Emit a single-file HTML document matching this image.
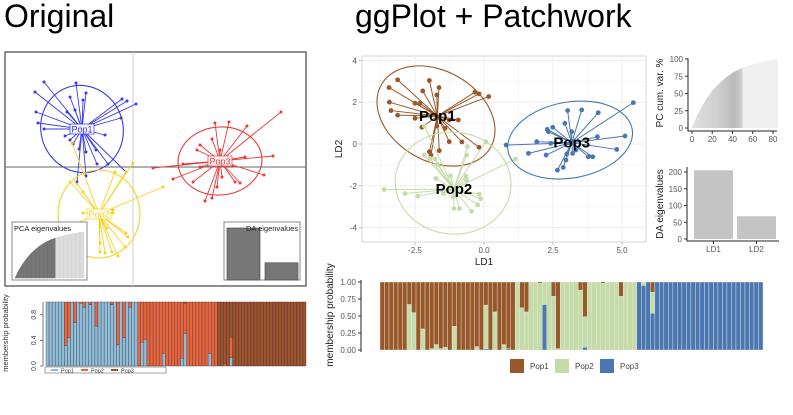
<!DOCTYPE html>
<html><head><meta charset="utf-8"><style>
html,body{margin:0;padding:0;background:#fff;width:793px;height:415px;overflow:hidden}
svg{display:block;font-family:"Liberation Sans",sans-serif}
</style></head><body>
<svg id="s" width="793" height="415" viewBox="0 0 793 415">
<text x="4" y="27" font-size="32" fill="#000">Original</text>
<text x="355" y="27" font-size="32" fill="#000">ggPlot + Patchwork</text>
</svg>
<script>
// ---------- DATA ----------
const r1x=[-3.13,-3.44,-3.43,-3.37,-3.13,-1.98,-2.22,-2.50,-2.32,-1.63,-1.71,-0.33,-0.18,0.17,-1.26,-0.93,-1.71,-2.25,-1.98,-1.92,-1.62,-1.26,-0.80,-0.18,-1.41,-2.50];
const r1y=[3.07,2.70,2.00,1.60,1.38,3.04,2.54,1.95,1.95,2.70,2.35,2.48,2.40,2.27,1.15,1.15,0.86,0.80,-0.37,-0.53,-0.32,0.11,0.10,-0.16,0.75,1.23];
const r2x=[-3.62,-2.86,-2.40,-2.16,-2.17,-1.96,-1.78,-1.69,-1.74,-1.21,-0.63,-0.60,0.07,1.14,-0.65,-0.63,-1.11,-1.09,-0.89,-0.45,-0.23,-0.18,-0.12,-1.47];
const r2y=[-2.18,-2.37,-2.50,0.86,-0.53,-0.69,-0.72,-0.96,-1.65,-1.52,-0.53,-0.13,0.11,-0.72,-1.54,-1.73,-2.53,-3.09,-3.09,-3.22,-2.91,-2.40,-2.61,-2.37];
const r3x=[5.41,3.03,3.54,4.14,2.93,2.49,2.29,2.33,3.18,1.91,1.61,2.25,0.80,2.42,4.11,5.11,4.81,3.33,3.00,2.97,3.21,3.78,3.94,2.87,2.66];
const r3y=[1.98,1.60,1.63,1.50,0.99,0.80,0.70,0.59,0.59,0.11,-0.45,-0.53,-0.05,0.03,0.35,0.38,-0.26,-0.29,-0.48,-0.77,-0.45,-0.61,-0.61,-1.12,-1.25];
const rCent=[[-1.69,1.34],[-1.09,-2.16],[3.18,0.06]];
const rEllC=[[-1.74,1.34],[-1.12,-1.87],[3.12,0.19]];
const xTicks=[-2.5,0,2.5,5];
const xTickLabels=["-2.5","0.0","2.5","5.0"];
const yTicks=[-4,-2,0,2,4];
const popNames=["Pop1","Pop2","Pop3"];
const l1x=[-8.9,-9.8,-5.7,-4.7,-6.3,-9.7,-9.5,-8.9,-6.6,-5.0,-1.1,-0.6,0.3,-1.2,-2.8,-6.8,-6.3,-6.0,-4.7,-3.7,-3.6,-4.7,-5.6,-5.4,-0.7,-2.5,-5.1,-5.8];
const l1y=[8.5,7.5,8.4,7.4,7.0,5.5,4.4,3.8,5.5,6.7,6.8,6.6,6.3,4.9,3.2,3.1,2.7,2.3,1.5,1.7,0.3,-0.9,-1.5,1.8,-0.5,0.3,3.2,5.7];
const l2x=[0.0,-0.7,-1.8,3.0,-6.3,-5.6,-5.0,-6.1,-8.1,-5.0,-2.0,-2.0,-0.7,-0.5,-0.8,-1.5,-2.1,-2.8,-3.3,-3.3,-3.3,-2.6];
const l2y=[0.4,-0.5,-0.5,-2.0,-1.5,-1.7,-2.5,2.4,-6.6,-4.6,-4.3,-4.6,-6.6,-7.0,-8.0,-8.9,-8.5,-8.6,-8.5,-7.6,-6.0,-6.1];
const l3x=[14.8,8.2,9.6,11.4,6.7,7.9,6.4,14.0,11.2,5.0,2.0,4.0,6.0,13.1,10.7,10.2,7.2,7.9,8.4,8.9,10.0,6.7,8.7];
const l3y=[5.5,4.4,4.5,4.1,2.2,2.8,1.7,1.1,1.0,0.3,-0.1,-1.2,-1.5,-0.8,-1.6,-1.5,-3.4,-3.1,-2.0,-1.0,0.1,0.0,1.7];
const lCent=[[-5.1,3.8],[-3.4,-4.7],[8.7,0.6]];
const pcX=[0,5,10,15,20,25,30,35,40,45,50,55,60,65,70,75,80,85];
const pcY=[0,18,32,44,54,62,69,75,80,84,87,90,92,94,96,97,99,100];
const pcRetained=50;
const daNames=["LD1","LD2"];
const daVals=[205,68];
const pcYTicks=[0,25,50,75,100];
const pcXTicks=[0,20,40,60,80];
const daTicks=[0,50,100,150,200];
const m1=[1,1,1,1,1,1,.33,.45,1,.69,1,.98,.92,.98,.96,1,.65,1,1,1,1,.95,1,.34,1,.44,1,.92,.98,1,
 0,.38,.44,0,0,.02,0,0,.21,.98,0,0,0,0,.12,.51,0,0,0,.02,0,0,0,.21,0,0,0,
 0,0,0,.15,0,0,0,0,0,0,0,0,0,0,0,0,0,0,0,0,0,0,0,0,0,0,0,0];
const m2=[0,0,0,0,0,0,.67,.55,0,.31,0,.02,.08,.02,.04,0,.35,0,0,0,0,.05,0,.64,0,.56,0,.08,0,0,
 1,.62,.56,1,1,.98,.33,1,.79,.02,1,1,1,1,.88,.45,1,1,1,.98,1,1,1,.79,1,1,1,
 0,.05,0,.31,0,0,0,0,0,0,0,0,0,0,0,0,0,0,0,0,0,0,0,0,0,0,0,0];
const m3=[0,0,0,0,0,0,0,0,0,0,0,0,0,0,0,0,0,0,0,0,0,0,0,.02,0,0,0,0,.02,0,
 0,0,0,0,0,0,.67,0,0,0,0,0,0,0,0,.04,0,0,0,0,0,0,0,0,0,0,0,
 1,.95,1,.54,1,1,1,1,1,1,1,1,1,1,1,1,1,1,1,1,1,1,1,1,1,1,1,1];
const mTicks=[0,.25,.5,.75,1];
const mTickLabels=["0.00","0.25","0.50","0.75","1.00"];
const lb=[1,1,1,1,1,1,.32,.44,1,.68,1,.98,.92,1,.96,1,.62,1,1,1,1,.96,1,.33,1,.44,1,.92,1,1,
 0,.37,.42,0,0,0,0,0,.2,0,0,0,0,0,.12,.51,0,0,0,0,0,0,0,.2,0,0,
 0,0,0,0,.13,0,0,0,0,0,0,0,0,0,0,0,0,0,0,0,0,0,0,0,0,0,0,0,0];
const lo=[0,0,0,0,0,0,.68,.56,0,.32,0,.02,.08,0,.04,0,.38,0,0,0,0,.04,0,.67,0,.56,0,.08,0,0,
 1,.63,.58,1,1,1,1,1,.8,1,1,1,1,1,.88,.47,1,1,1,1,1,1,1,.8,1,1,
 0,0,.04,0,.32,0,0,0,0,0,0,0,0,0,0,0,0,0,0,0,0,0,0,0,0,0,0,0,0];
const lr=[0,0,0,0,0,0,0,0,0,0,0,0,0,0,0,0,0,0,0,0,0,0,0,0,0,0,0,0,0,0,
 0,0,0,0,0,0,0,0,0,0,0,0,0,0,0,.02,0,0,0,0,0,0,0,0,0,0,
 1,1,.96,1,.55,1,1,1,1,1,1,1,1,1,1,1,1,1,1,1,1,1,1,1,1,1,1,1,1];
const lTicks=[0,.4,.8];
const lTickLabels=["0.0","0.4","0.8"];

// ---------- DRAW ----------
const S=document.getElementById('s');
const NS='http://www.w3.org/2000/svg';
function mk(tag,attrs,parent){const e=document.createElementNS(NS,tag);for(const k in attrs)e.setAttribute(k,attrs[k]);(parent||S).appendChild(e);return e;}
function txt(x,y,s,size,fill,extra){const e=mk('text',Object.assign({x:x,y:y,'font-size':size,fill:fill},extra||{}));e.textContent=s;return e;}

// ===== Left scatter =====
const LX=v=>133+v*10, LY=v=>167-v*10;
let e=mk('rect',{x:5,y:52,width:301,height:234,fill:'#fff',stroke:'#444','stroke-width':1.2});

e=mk('line',{x1:133,y1:52,x2:133,y2:286,stroke:'#ccc'});

e=mk('line',{x1:5,y1:LY(0),x2:306,y2:LY(0),stroke:'#666'});

const lCols=['#3838ee','#f5d322','#ee3636'];
const lX=[l1x,l2x,l3x], lY=[l1y,l2y,l3y];
const lEll=[[41,44,-20],[41,44,0],[42,34,-5]];
for(let p=0;p<3;p++){
  const cx=LX(lCent[p][0]), cy=LY(lCent[p][1]);
  e=mk('ellipse',{cx:cx,cy:cy,rx:lEll[p][0],ry:lEll[p][1],transform:`rotate(${lEll[p][2]} ${cx} ${cy})`,fill:'none',stroke:lCols[p],'stroke-width':1.1});
  
  for(let i=0;i<lX[p].length;i++){
    e=mk('line',{x1:cx,y1:cy,x2:LX(lX[p][i]),y2:LY(lY[p][i]),stroke:lCols[p],'stroke-width':0.9});
    
    e=mk('circle',{cx:LX(lX[p][i]),cy:LY(lY[p][i]),r:1.5,fill:lCols[p]});
    
  }
}
for(let p=0;p<3;p++){
  const cx=LX(lCent[p][0]), cy=LY(lCent[p][1]);
  e=mk('rect',{x:cx-12,y:cy-5,width:24,height:10,fill:'#fff',stroke:lCols[p],'stroke-width':0.8,opacity:0.9});
  
  e=txt(cx,cy+3.5,popNames[p],9,lCols[p],{'text-anchor':'middle'});
  
}
e=mk('rect',{x:12,y:222,width:75,height:58,fill:'#fff',stroke:'#888','stroke-width':1});

const IX=v=>15+v*(69/85), IY=v=>278-v*0.46;
for(let i=0;i<pcX.length-1;i++){
  const x0=IX(pcX[i]),x1=IX(pcX[i+1]);
  e=mk('polygon',{points:`${x0},${IY(0)} ${x0},${IY(pcY[i])} ${x1},${IY(pcY[i+1])} ${x1},${IY(0)}`,fill:pcX[i]<pcRetained?'#777':'#dcdcdc',stroke:pcX[i]<pcRetained?'#6a6a6a':'#d0d0d0','stroke-width':0.4});
  
}
e=txt(14,231,'PCA eigenvalues',7.5,'#222');

e=mk('rect',{x:224,y:222,width:76,height:58,fill:'#fff',stroke:'#888','stroke-width':1});

const DY=v=>280-v*(52/205);
for(let i=0;i<daVals.length;i++){
  e=mk('rect',{x:227+i*38,y:DY(daVals[i]),width:33,height:280-DY(daVals[i]),fill:'#777',stroke:'#444','stroke-width':0.6});
  
}
e=txt(246,231,'DA eigenvalues',7.5,'#222');


// ===== Left membership =====
const BL=46, BW=260/85, BY=v=>366-v*64;
for(let i=0;i<lb.length;i++){
  const segs=[[lb[i],'#8fbcd9'],[lo[i],'#ea653e'],[lr[i],'#a0522d']];
  let acc=0;
  for(const [v,c] of segs){ if(v>0){
    e=mk('rect',{x:BL+i*BW,y:BY(acc+v),width:BW,height:BY(acc)-BY(acc+v),fill:c,stroke:'#333','stroke-width':0.35});
    
    acc+=v;}}
}
e=mk('line',{x1:43,y1:BY(0),x2:43,y2:BY(1),stroke:'#555','stroke-width':0.8});

for(let i=0;i<lTicks.length;i++){
  e=mk('line',{x1:40,y1:BY(lTicks[i]),x2:43,y2:BY(lTicks[i]),stroke:'#555','stroke-width':0.8});
  
  e=txt(0,0,lTickLabels[i],7,'#444',{'text-anchor':'middle',transform:`translate(36 ${BY(lTicks[i])}) rotate(-90)`});
  
}
e=txt(0,0,'membership probability',7.5,'#333',{'text-anchor':'middle',transform:'translate(8 333) rotate(-90)'});

e=mk('rect',{x:45,y:367,width:121,height:6,fill:'#fff',stroke:'#666','stroke-width':0.6});

const lLegCols=['#8fbcd9','#ea653e','#a0522d'];
for(let p=0;p<3;p++){
  e=mk('line',{x1:51+p*30,y1:370,x2:58+p*30,y2:370,stroke:lLegCols[p],'stroke-width':2});
  
  e=txt(61+p*30,372.5,popNames[p],5.5,'#333');
  
}

// ===== Right scatter =====
const RX=v=>484+v*27.6, RY=v=>144-v*20.9;
e=mk('rect',{x:362,y:56,width:284,height:186,fill:'#fff',stroke:'#d6d6d6','stroke-width':1});

for(let v=-3.75;v<=5.5;v+=1.25){
  e=mk('line',{x1:RX(v),y1:57,x2:RX(v),y2:241,stroke:'#ececec','stroke-width':(Math.abs((v/2.5)%1)<0.01)?0.9:0.5});
  
}
for(let v=-5;v<=4;v+=1){
  if(RY(v)<57||RY(v)>241)continue;
  e=mk('line',{x1:363,y1:RY(v),x2:645,y2:RY(v),stroke:'#ececec','stroke-width':v%2===0?0.9:0.5});
  
}
for(let i=0;i<xTicks.length;i++){
  e=mk('line',{x1:RX(xTicks[i]),y1:242,x2:RX(xTicks[i]),y2:245,stroke:'#bbb'});
  
  e=txt(RX(xTicks[i]),253,xTickLabels[i],8,'#555',{'text-anchor':'middle'});
  
}
for(let i=0;i<yTicks.length;i++){
  e=mk('line',{x1:359,y1:RY(yTicks[i]),x2:362,y2:RY(yTicks[i]),stroke:'#bbb'});
  
  e=txt(357,RY(yTicks[i])+3,String(yTicks[i]),8,'#555',{'text-anchor':'end'});
  
}
e=txt(484,265,'LD1',10,'#222',{'text-anchor':'middle'});

e=txt(0,0,'LD2',10,'#222',{'text-anchor':'middle',transform:'translate(342 149) rotate(-90)'});

const rCols=['#99582a','#c5dcaa','#4a77b1'];
const rX=[r1x,r2x,r3x], rY=[r1y,r2y,r3y];
const rEll=[[63,45,30],[58,51,5],[63,38,-10]];
for(let p=0;p<3;p++){
  const ex=RX(rEllC[p][0]), ey=RY(rEllC[p][1]);
  e=mk('ellipse',{cx:ex,cy:ey,rx:rEll[p][0],ry:rEll[p][1],transform:`rotate(${rEll[p][2]} ${ex} ${ey})`,fill:'none',stroke:rCols[p],'stroke-width':1.1});
  
  const cx=RX(rCent[p][0]), cy=RY(rCent[p][1]);
  for(let i=0;i<rX[p].length;i++){
    e=mk('line',{x1:cx,y1:cy,x2:RX(rX[p][i]),y2:RY(rY[p][i]),stroke:rCols[p],'stroke-width':1});
    
    e=mk('circle',{cx:RX(rX[p][i]),cy:RY(rY[p][i]),r:2.4,fill:rCols[p]});
    
  }
}
for(let p=0;p<3;p++){
  e=txt(RX(rCent[p][0]),RY(rCent[p][1])+5,popNames[p],15,'#000',{'text-anchor':'middle','font-weight':'bold'});
  
}

// ===== PC cum var =====
const PX=v=>692+v*(81/80), PY=v=>128-v*0.69;
const grad=mk('linearGradient',{id:'pg',x1:0,x2:1,y1:0,y2:0},mk('defs',{}));
[[0,'#e0e0e0'],[0.5,'#cfcfcf'],[0.85,'#b9b9b9'],[1,'#d2d2d2']].forEach(s=>mk('stop',{offset:s[0],'stop-color':s[1]},grad));
let pts=`${PX(0)},${PY(0)}`;
for(let i=0;i<pcX.length&&pcX[i]<=pcRetained;i++)pts+=` ${PX(pcX[i])},${PY(pcY[i])}`;
pts+=` ${PX(pcRetained)},${PY(0)}`;
e=mk('polygon',{points:pts,fill:'url(#pg)'});

pts=`${PX(pcRetained)},${PY(0)}`;
for(let i=0;i<pcX.length;i++)if(pcX[i]>=pcRetained)pts+=` ${PX(pcX[i])},${PY(pcY[i])}`;
pts+=` ${PX(pcX[pcX.length-1])},${PY(0)}`;
e=mk('polygon',{points:pts,fill:'#f0f0f0'});

e=mk('path',{d:`M688,${PY(101)} V131 H777`,fill:'none',stroke:'#222','stroke-width':1});

for(const v of pcYTicks){
  e=mk('line',{x1:685,y1:PY(v),x2:688,y2:PY(v),stroke:'#333'});
  
  e=txt(683,PY(v)+3,String(v),8,'#555',{'text-anchor':'end'});
  
}
for(const v of pcXTicks){
  e=mk('line',{x1:PX(v),y1:131,x2:PX(v),y2:134,stroke:'#333'});
  
  e=txt(PX(v),142,String(v),8,'#555',{'text-anchor':'middle'});
  
}
e=txt(0,0,'PC cum. var. %',10,'#222',{'text-anchor':'middle',transform:'translate(663 93) rotate(-90)'});


// ===== DA eigenvalues =====
const EY=v=>239-v*(67/200);
for(let i=0;i<daVals.length;i++){
  e=mk('rect',{x:694+i*43,y:EY(daVals[i]),width:39,height:EY(0)-EY(daVals[i]),fill:'#c4c4c4'});
  
  e=txt(713.5+i*43,252,daNames[i],8,'#555',{'text-anchor':'middle'});
  
  e=mk('line',{x1:713.5+i*43,y1:241,x2:713.5+i*43,y2:244,stroke:'#333'});
  
}
e=mk('path',{d:`M687,167 V241 H779`,fill:'none',stroke:'#222','stroke-width':1});

for(const v of daTicks){
  e=mk('line',{x1:684,y1:EY(v),x2:687,y2:EY(v),stroke:'#333'});
  
  e=txt(682,EY(v)+3,String(v),8,'#555',{'text-anchor':'end'});
  
}
e=txt(0,0,'DA eigenvalues',10,'#222',{'text-anchor':'middle',transform:'translate(663 204) rotate(-90)'});


// ===== Right membership =====
const MX0=380, MW=383/85, MY=v=>350-v*68;
for(let i=0;i<m1.length;i++){
  const segs=[[m3[i],rCols[2]],[m2[i],rCols[1]],[m1[i],rCols[0]]];
  let acc=0;
  for(const [v,c] of segs){ if(v>0){
    e=mk('rect',{x:MX0+i*MW,y:MY(acc+v),width:MW,height:MY(acc)-MY(acc+v),fill:c,stroke:'#e6eedd','stroke-width':0.4});
    
    acc+=v;}}
}
e=mk('line',{x1:361,y1:MY(0)+2,x2:361,y2:MY(1)-2,stroke:'#222','stroke-width':1});

for(let i=0;i<mTicks.length;i++){
  e=mk('line',{x1:358,y1:MY(mTicks[i]),x2:361,y2:MY(mTicks[i]),stroke:'#333'});
  
  e=txt(356,MY(mTicks[i])+3,mTickLabels[i],8,'#555',{'text-anchor':'end'});
  
}
e=txt(0,0,'membership probability',10,'#222',{'text-anchor':'middle',transform:'translate(333 315) rotate(-90)'});

for(let p=0;p<3;p++){
  e=mk('rect',{x:510+p*45,y:359,width:14,height:14,fill:rCols[p]});
  
  e=txt(530+p*45,369,popNames[p],8,'#444');
  
}
</script>
</body></html>
